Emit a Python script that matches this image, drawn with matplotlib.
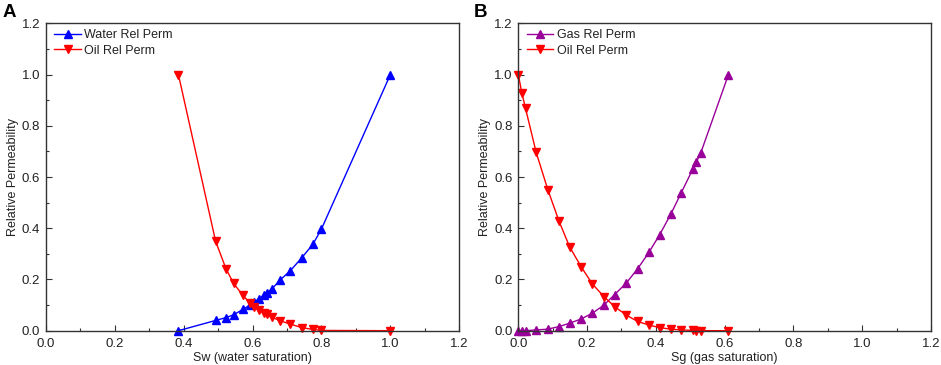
import matplotlib
matplotlib.use("Agg")
import matplotlib.pyplot as plt
from matplotlib.ticker import MultipleLocator

plt.rcParams['font.family'] = ['Liberation Sans', 'DejaVu Sans']

# Panel A data
sw = [0.385, 0.493, 0.523, 0.545, 0.572, 0.592, 0.605, 0.618, 0.632, 0.641,
      0.657, 0.680, 0.709, 0.743, 0.775, 0.800, 1.0]
krw = [0.0, 0.040, 0.051, 0.062, 0.083, 0.100, 0.112, 0.124, 0.138, 0.147,
       0.164, 0.198, 0.233, 0.285, 0.337, 0.397, 1.0]
kro_w = [1.0, 0.349, 0.242, 0.185, 0.138, 0.109, 0.092, 0.081, 0.070, 0.064,
         0.052, 0.039, 0.026, 0.012, 0.005, 0.001, 0.0]

# Panel B data
sg = [0.0, 0.010, 0.021, 0.052, 0.086, 0.118, 0.149, 0.183, 0.215, 0.249,
      0.280, 0.314, 0.347, 0.380, 0.411, 0.443, 0.474, 0.507, 0.518, 0.530, 0.611]
krg = [0.0, 0.0, 0.0, 0.003, 0.006, 0.016, 0.029, 0.046, 0.068, 0.100,
       0.141, 0.186, 0.242, 0.306, 0.375, 0.454, 0.539, 0.630, 0.660, 0.692, 1.0]
kro_g = [1.0, 0.930, 0.868, 0.696, 0.550, 0.429, 0.328, 0.249, 0.183, 0.133,
         0.094, 0.061, 0.036, 0.022, 0.012, 0.006, 0.003, 0.001, 0.0005, 0.0, 0.0]

fig = plt.figure(figsize=(9.41, 3.65), dpi=100)
axA = fig.add_axes([0.0486, 0.094, 0.4395, 0.842])
axB = fig.add_axes([0.5508, 0.094, 0.4386, 0.842])

fs = 9
tfs = 9.5
spine_c = '#333333'
txt_c = '#222222'

def style(ax, xlabel):
    ax.set_xlim(0, 1.2)
    ax.set_ylim(0, 1.2)
    ax.xaxis.set_major_locator(MultipleLocator(0.2))
    ax.yaxis.set_major_locator(MultipleLocator(0.2))
    ax.xaxis.set_minor_locator(MultipleLocator(0.1))
    ax.yaxis.set_minor_locator(MultipleLocator(0.1))
    ax.tick_params(which='both', direction='in', colors=spine_c, labelcolor=txt_c,
                   labelsize=tfs)
    ax.tick_params(which='major', length=4, width=0.8, pad=4)
    ax.tick_params(axis='x', which='major', pad=5)
    ax.tick_params(which='minor', length=2.5, width=0.8)
    ax.xaxis.set_major_formatter(matplotlib.ticker.FormatStrFormatter('%.1f'))
    ax.yaxis.set_major_formatter(matplotlib.ticker.FormatStrFormatter('%.1f'))
    for s in ax.spines.values():
        s.set_color(spine_c)
        s.set_linewidth(1.0)
    ax.set_xlabel(xlabel, fontsize=fs, color=txt_c, labelpad=2)
    ax.set_ylabel('Relative Permeability', fontsize=fs, color=txt_c, labelpad=2)
    leg = ax.legend(loc='upper left', bbox_to_anchor=(0.0, 1.01), frameon=False,
                    fontsize=fs, handlelength=2.1, handletextpad=0.3,
                    labelspacing=0.28, borderaxespad=0.3)
    for t in leg.get_texts():
        t.set_color(txt_c)

ms = 5.5
axA.plot(sw, krw, color='#0000ff', marker='^', markersize=ms, lw=1.0, label='Water Rel Perm', clip_on=False)
axA.plot(sw, kro_w, color='#ff0000', marker='v', markersize=ms, lw=1.0, label='Oil Rel Perm', clip_on=False)
style(axA, 'Sw (water saturation)')

axB.plot(sg, krg, color='#990099', marker='^', markersize=ms, lw=1.0, label='Gas Rel Perm', clip_on=False)
axB.plot(sg, kro_g, color='#ff0000', marker='v', markersize=ms, lw=1.0, label='Oil Rel Perm', clip_on=False)
style(axB, 'Sg (gas saturation)')

fig.text(0.003, 0.99, 'A', fontsize=13.5, fontweight='bold', va='top', ha='left')
fig.text(0.503, 0.99, 'B', fontsize=13.5, fontweight='bold', va='top', ha='left')

fig.savefig('out.png', dpi=100)
